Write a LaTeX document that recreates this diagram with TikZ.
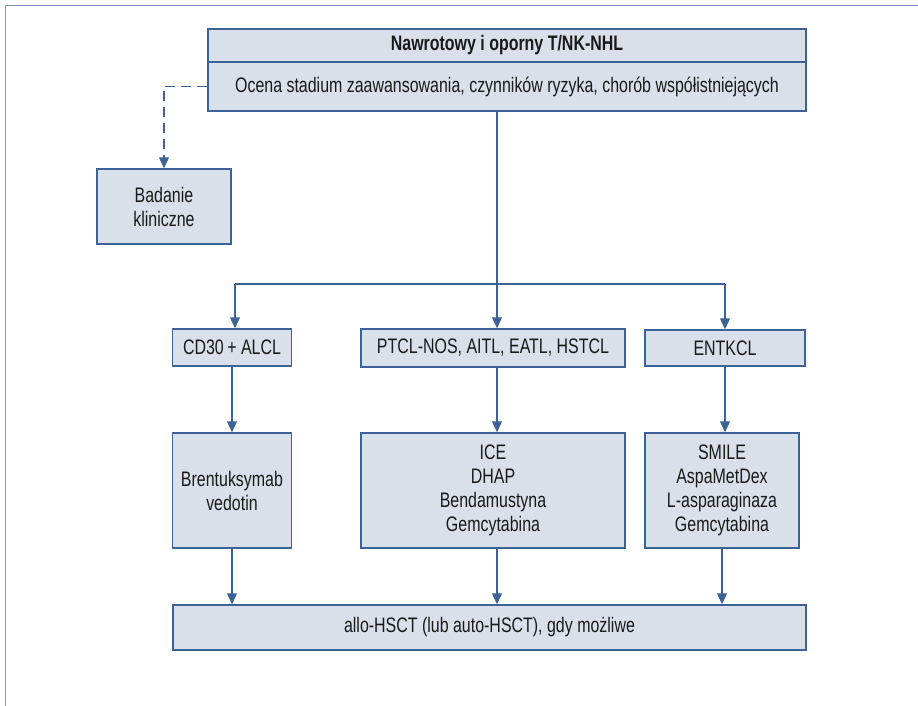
\documentclass[tikz,border=0pt]{standalone}
\usepackage{fontspec}
\setmainfont{Liberation Sans}[FakeStretch=0.76]
\usepackage{tikz}
\usetikzlibrary{arrows.meta, positioning}
\usepackage{xcolor}

\definecolor{boxfill}{HTML}{D9E0EA}
\definecolor{boxline}{HTML}{3B6396}
\definecolor{frameline}{HTML}{7E98BE}
\definecolor{txt}{HTML}{1A1A1A}

\begin{document}
\begin{tikzpicture}[x=1pt,y=-1pt,
  font=\fontsize{21}{24}\selectfont, text=txt]
  \tikzstyle{box}=[rectangle,draw=boxline,fill=boxfill,line width=1.5pt,
                   align=center,inner sep=0pt]
  \tikzstyle{link}=[draw=boxline,line width=1.3pt,
                    -{Triangle[length=11pt,width=10pt]}]
  \tikzstyle{bare}=[draw=boxline,line width=1.3pt]

  \useasboundingbox (0,0) rectangle (918,706);
  \draw[frameline,line width=1.8pt] (918,5.5) -- (5.5,5.5) -- (5.5,706);

  \node[box,minimum width=598pt,minimum height=33pt] (head)   at (507,45.5)
        {\textbf{Nawrotowy i oporny T/NK-NHL}};
  \node[box,minimum width=598pt,minimum height=49pt] (eval)   at (507,86.5)
        {Ocena stadium zaawansowania, czynników ryzyka, chorób współistniejących};
  \node[box,minimum width=134pt,minimum height=75pt] (trial)  at (164,206.5)
        {Badanie\\kliniczne};

  \node[box,minimum width=119pt,minimum height=37pt] (alcl)   at (232,347.5)
        {CD30\,+ ALCL};
  \node[box,minimum width=264pt,minimum height=38pt] (ptcl)   at (493,348)
        {PTCL-NOS, AITL, EATL, HSTCL};
  \node[box,minimum width=160pt,minimum height=36pt] (entkcl) at (725,348)
        {ENTKCL};

  \node[box,minimum width=119pt,minimum height=115pt] (bv)    at (232,490.5)
        {Brentuksymab\\vedotin};
  \node[box,minimum width=264pt,minimum height=115pt] (chemo) at (493,490.5)
        {ICE\\DHAP\\Bendamustyna\\Gemcytabina};
  \node[box,minimum width=154pt,minimum height=115pt] (smile) at (722,490.5)
        {SMILE\\AspaMetDex\\L-asparaginaza\\Gemcytabina};

  \node[box,minimum width=633pt,minimum height=45pt] (hsct)   at (489.5,627.5)
        {allo-HSCT (lub auto-HSCT), gdy możliwe};

  % rozgalezienie
  \coordinate (split) at (497,284);
  \coordinate (left)  at (235,284);
  \coordinate (right) at (725,284);

  \path[link,dash pattern=on 10pt off 6pt]
    (eval.west) -- (trial.north |- eval.west) -- (trial.north);
  \path[bare] (split |- eval.south) -- (split);
  \path[bare] (left) -- (right);
  \path[link] (left) -- (left |- alcl.north);
  \path[link] (split) -- (split |- ptcl.north);
  \path[link] (right) -- (right |- entkcl.north);

  \path[link] (alcl.south) -- (bv.north);
  \path[link] (split |- ptcl.south) -- (split |- chemo.north);
  \path[link] (right |- entkcl.south) -- (right |- smile.north);

  \path[link] (bv.south) -- (bv.south |- hsct.north);
  \path[link] (split |- chemo.south) -- (split |- hsct.north);
  \path[link] (smile.south) -- (smile.south |- hsct.north);
\end{tikzpicture}
\end{document}
